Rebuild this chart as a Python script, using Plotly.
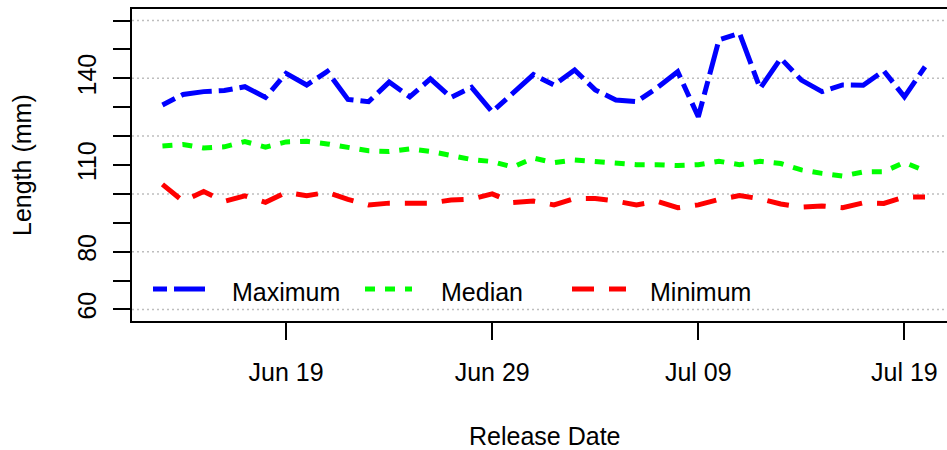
import pandas as pd
import plotly.graph_objects as go

# Daily release dates
release_dates = pd.date_range("2014-06-13", "2014-07-20", freq="D")

# Fish length per release day (mm)
maximum = [130.8, 134.4, 135.4, 135.8, 137.1, 133.4, 141.7, 137.7, 142.4, 132.7,
           131.9, 138.7, 133.6, 139.8, 133.4, 136.9, 128.4, 134.6, 141.3, 137.7,
           142.9, 136.0, 132.5, 131.9, 136.7, 142.3, 126.7, 153.3, 155.6, 136.5,
           146.9, 139.4, 135.4, 137.7, 137.6, 142.6, 133.6, 144.0]
median = [116.6, 117.1, 115.9, 116.3, 118.1, 116.2, 118.0, 118.2, 117.3, 116.0,
          114.9, 114.7, 115.6, 114.7, 113.3, 111.9, 111.2, 109.3, 112.4, 110.8,
          111.7, 111.2, 110.9, 110.1, 110.1, 109.8, 110.1, 111.3, 110.1, 111.3,
          110.5, 108.3, 107.1, 106.2, 107.6, 107.7, 110.9, 108.0]
minimum = [103.3, 97.5, 100.8, 97.4, 99.3, 97.1, 100.5, 99.4, 100.5, 98.1,
           96.2, 96.8, 96.8, 96.8, 97.9, 98.2, 100.0, 97.0, 97.5, 96.2,
           98.4, 98.4, 97.5, 96.2, 97.4, 95.2, 96.2, 98.1, 99.4, 98.3,
           96.5, 95.4, 95.8, 95.2, 96.9, 96.7, 98.9, 98.9]

series_names = ["Maximum", "Median", "Minimum"]
series_values = [maximum, median, minimum]
series_colors = ["#0000FF", "#00FF00", "#FF0000"]
series_dashes = ["14px,7px,31px,7px", "10px,10px", "22px,15px"]

# Axis ticks
x_tick_dates = ["2014-06-19", "2014-06-29", "2014-07-09", "2014-07-19"]
y_tick_values = [60, 70, 80, 90, 100, 110, 120, 130, 140, 150, 160]
y_labelled = [60, 80, 110, 140]
y_grid_values = [60, 80, 100, 120, 140, 160]

FONT = "Liberation Sans, Arial, sans-serif"
W, H = 947, 450
M_L, M_R, M_T, M_B = 132, 0, 9, 129
PW, PH = W - M_L - M_R, H - M_T - M_B

fig = go.Figure()
for name, vals, col, dash in zip(series_names, series_values, series_colors, series_dashes):
    fig.add_trace(go.Scatter(
        x=release_dates, y=vals, mode="lines", name=name, showlegend=False,
        line=dict(color=col, width=5, dash=dash),
    ))

# Dotted horizontal grid
for gv in y_grid_values:
    fig.add_shape(type="line", xref="paper", yref="y", x0=0, x1=1, y0=gv, y1=gv,
                  line=dict(color="#BEBEBE", width=1.5, dash="2px,3px"), layer="below")

# Horizontal legend inside the bottom-left of the plot
def px_x(px):
    return (px - M_L) / PW

def px_y(py):
    return (H - M_B - py) / PH

legend_samples = [(153, 207, 230), (365, 412, 439), (572, 626, 648)]
legend_line_y = 289
legend_text_y = 291.5
for (s0, s1, tx), name, col, dash in zip(legend_samples, series_names, series_colors, series_dashes):
    fig.add_shape(type="line", xref="paper", yref="paper",
                  x0=px_x(s0), x1=px_x(s1), y0=px_y(legend_line_y), y1=px_y(legend_line_y),
                  line=dict(color=col, width=5, dash=dash))
    fig.add_annotation(text=name, xref="paper", yref="paper", x=px_x(tx), y=px_y(legend_text_y),
                       xanchor="left", yanchor="middle", showarrow=False,
                       font=dict(family=FONT, size=25, color="black"))

# Axis titles
fig.add_annotation(text="Release Date", xref="paper", yref="paper",
                   x=px_x(544), y=px_y(436), xanchor="center", yanchor="middle",
                   showarrow=False, font=dict(family=FONT, size=25, color="black"))
fig.add_annotation(text="Length (mm)", xref="paper", yref="paper",
                   x=px_x(22), y=px_y(165), xanchor="center", yanchor="middle",
                   textangle=-90, showarrow=False, font=dict(family=FONT, size=25, color="black"))

fig.update_layout(
    width=W, height=H,
    margin=dict(l=M_L, r=M_R, t=M_T, b=M_B, pad=0),
    paper_bgcolor="white", plot_bgcolor="white",
    font=dict(family=FONT, size=25, color="black"),
    showlegend=False,
    xaxis=dict(
        type="date", range=["2014-06-11 12:33", "2014-07-21 01:36"],
        tickvals=x_tick_dates, tickformat="%b %d",
        ticks="outside", ticklen=17, tickwidth=1.5, tickcolor="black",
        showline=True, linecolor="black", linewidth=2, mirror=True,
        showgrid=False, zeroline=False, ticklabelstandoff=11,
        tickfont=dict(family=FONT, size=25, color="black"),
    ),
    yaxis=dict(
        range=[56, 164], tickvals=y_tick_values,
        ticktext=[str(v) if v in y_labelled else "" for v in y_tick_values],
        tickangle=-90,
        ticks="outside", ticklen=17, tickwidth=1.5, tickcolor="black",
        showline=True, linecolor="black", linewidth=2, mirror=False,
        showgrid=False, zeroline=False, ticklabelstandoff=7,
        tickfont=dict(family=FONT, size=25, color="black"),
    ),
)

fig.write_html("out.html")
